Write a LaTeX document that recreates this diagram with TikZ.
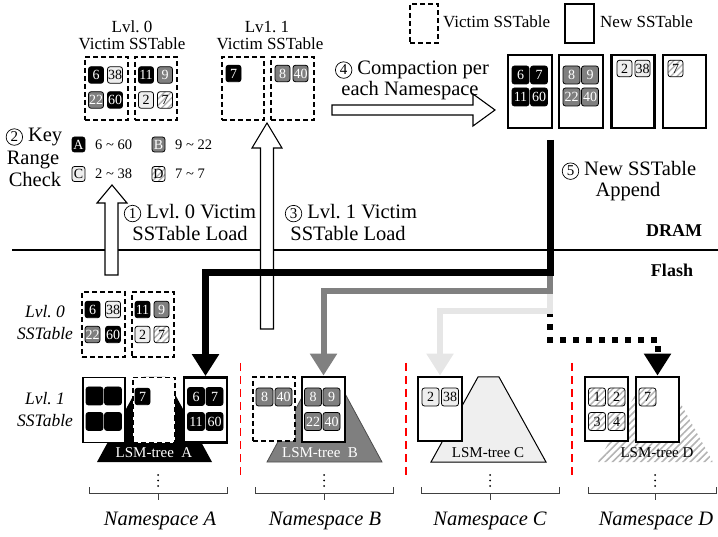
\documentclass[tikz,border=0pt]{standalone}
\usepackage{fontspec}
\setmainfont{Liberation Serif}
\usetikzlibrary{arrows.meta,patterns.meta}

\definecolor{cellgray}{HTML}{7F7F7F}
\definecolor{celllight}{HTML}{EEEEEE}
\definecolor{flowgray}{HTML}{808080}
\definecolor{flowlight}{HTML}{E6E6E6}
\definecolor{hatchgray}{HTML}{B4B4B4}
\definecolor{treelight}{HTML}{EFEFEF}

\newcommand{\fsz}[1]{\fontsize{#1}{#1}\selectfont}
% circled step number
\newcommand{\cnum}[1]{\tikz[baseline=(cnumnode.base)]\node[draw,circle,line width=0.7pt,inner sep=0pt,minimum size=16.5pt,font=\fsz{15}](cnumnode){#1};}

\begin{document}
\begin{tikzpicture}[x=1pt,y=-1pt,
  cell/.style={rounded corners=2.5pt, draw=black, line width=0.8pt, minimum width=15pt, minimum height=16.5pt, inner sep=0pt, font=\fsz{14}},
  cA/.style={cell, fill=black, text=white},
  cB/.style={cell, fill=cellgray, text=white},
  cC/.style={cell, fill=celllight},
  cD/.style={cell, preaction={fill=white}, pattern={Lines[angle=45,distance=4.5pt,line width=1.4pt]}, pattern color=hatchgray},
  big/.style={minimum width=17pt, minimum height=18pt},
  vbox/.style={draw, dash pattern=on 5pt off 3pt, line width=1.5pt, fill=white, inner sep=0pt},
  nbox/.style={draw, line width=2.8pt, fill=white, inner sep=0pt},
  obox/.style={draw, line width=1.2pt, fill=white, inner sep=0pt},
  hollow/.style={draw, line width=1.1pt, fill=white, line join=miter},
  lbl/.style={inner sep=0pt, anchor=base, font=\fsz{17}},
  steplbl/.style={inner sep=0pt, anchor=base, font=\fsz{20.5}},
  rowlbl/.style={inner sep=0pt, anchor=base, font=\fsz{17.5}\itshape},
  nslbl/.style={inner sep=0pt, anchor=base, font=\fsz{20.5}\itshape},
  treelbl/.style={inner sep=0pt, anchor=base, font=\fsz{15}},
  keytxt/.style={inner sep=0pt, anchor=west, font=\fsz{14.5}},
  flowtip/.style={-{Triangle[width=26pt,length=22pt]}},
  sep/.style={red, line width=1.6pt, dash pattern=on 8pt off 5pt},
  brace/.style={line width=0.9pt, black!75},
]
\useasboundingbox (0,0) rectangle (718,537);

% ---------- LSM-tree trapezoids (Flash) ----------
\fill[black] (97,462) -- (143.5,377) -- (165.5,377) -- (212,462) -- cycle;
\filldraw[fill=cellgray, draw=black!70, line width=0.8pt] (267,462) -- (313,377) -- (336,377) -- (382,462) -- cycle;
\filldraw[fill=treelight, draw=black, line width=1pt] (431,462) -- (478,377) -- (499,377) -- (546,462) -- cycle;
\path[pattern={Lines[angle=45,distance=5pt,line width=1.6pt]}, pattern color=hatchgray] (598,462) -- (645,377) -- (666,377) -- (713,462) -- cycle;

% ---------- SSTable boxes ----------
% DRAM: level-0 victims
\node[vbox, minimum width=43pt, minimum height=63pt] (dv0a) at (106.5,88.5) {};
\node[vbox, minimum width=42pt, minimum height=63pt] (dv0b) at (156,88.5) {};
% DRAM: level-1 victims
\node[vbox, minimum width=42pt, minimum height=63pt] (dv1a) at (243,88.5) {};
\node[vbox, minimum width=43pt, minimum height=63pt] (dv1b) at (292.5,88.5) {};
% DRAM: compaction results
\node[nbox, minimum width=44pt, minimum height=73pt] (cn1) at (530,91.5) {};
\node[nbox, minimum width=44pt, minimum height=73pt] (cn2) at (581,91.5) {};
\node[nbox, minimum width=43pt, minimum height=73pt] (cn3) at (633,91.5) {};
\node[nbox, minimum width=43pt, minimum height=73pt] (cn4) at (684.5,91.5) {};
% legend
\node[vbox, minimum width=28pt, minimum height=39pt] (legvb) at (424,23.5) {};
\node[nbox, minimum width=29pt, minimum height=39pt] (legnb) at (579.5,23.5) {};
% Flash: level-0
\node[vbox, minimum width=43pt, minimum height=65pt] (f0a) at (103.5,324.5) {};
\node[vbox, minimum width=42pt, minimum height=65pt] (f0b) at (153,324.5) {};
% Flash: level-1 per namespace
\node[obox, minimum width=42pt, minimum height=65pt] (aold) at (104,410) {};
\node[vbox, minimum width=42pt, minimum height=65pt] (avic) at (154,410) {};
\node[nbox, minimum width=43pt, minimum height=65pt] (anew) at (205.5,410) {};
\node[vbox, minimum width=42pt, minimum height=64pt] (bvic) at (274,409) {};
\node[nbox, minimum width=43pt, minimum height=65pt] (bnew) at (323.5,409.5) {};
\node[nbox, minimum width=44pt, minimum height=64pt] (cnew) at (440,409) {};
\node[obox, minimum width=43pt, minimum height=64pt] (dold) at (606.5,409) {};
\node[nbox, minimum width=43pt, minimum height=65pt] (dnew) at (657.5,409.5) {};

% ---------- key cells ----------
% DRAM level-0 victims
\node[cA] (k01) at (96,75) {6};
\node[cC] (k02) at (115,75) {38};
\node[cB] (k03) at (96,100) {22};
\node[cA] (k04) at (115,100) {60};
\node[cA] (k05) at (146,75) {11};
\node[cB] (k06) at (165,75) {9};
\node[cC] (k07) at (146,100) {2};
\node[cD] (k08) at (165,100) {7};
% DRAM level-1 victims
\node[cA] (k11) at (233.5,73.5) {7};
\node[cB] (k12) at (282.5,73.5) {8};
\node[cB] (k13) at (300.5,73.5) {40};
% compaction results
\node[cA, big] (r1) at (520.5,75) {6};
\node[cA, big] (r2) at (539,75) {7};
\node[cA, big] (r3) at (520.5,97) {11};
\node[cA, big] (r4) at (539,97) {60};
\node[cB, big] (r5) at (571.5,75) {8};
\node[cB, big] (r6) at (590,75) {9};
\node[cB, big] (r7) at (571.5,97) {22};
\node[cB, big] (r8) at (590,97) {40};
\node[cC] (r9) at (624.5,68.5) {2};
\node[cC] (r10) at (642.5,68.5) {38};
\node[cD] (r11) at (675.5,68.5) {7};
% key range legend
\node[cA, minimum width=13pt, minimum height=15pt] (kA) at (78.5,144.5) {A};
\node[cB, minimum width=13pt, minimum height=15pt] (kB) at (158.5,144.5) {B};
\node[cC, minimum width=13pt, minimum height=15pt] (kC) at (78.5,174) {C};
\node[cD, minimum width=13pt, minimum height=15pt] (kD) at (158.5,174) {D};
\node[keytxt] (kAt) at (95,144.5) {6 \textasciitilde{} 60};
\node[keytxt] (kBt) at (175,144.5) {9 \textasciitilde{} 22};
\node[keytxt] (kCt) at (95,174) {2 \textasciitilde{} 38};
\node[keytxt] (kDt) at (175,174) {7 \textasciitilde{} 7};
% Flash level-0
\node[cA] (f01) at (92.5,309.5) {6};
\node[cC] (f02) at (113,309.5) {38};
\node[cB] (f03) at (92.5,334.5) {22};
\node[cA] (f04) at (113,334.5) {60};
\node[cA] (f05) at (142.5,309.5) {11};
\node[cB] (f06) at (161.5,309.5) {9};
\node[cC] (f07) at (142.5,334.5) {2};
\node[cD] (f08) at (161.5,334.5) {7};
% namespace A
\node[cA, big] (a1) at (94.5,396) {};
\node[cA, big] (a2) at (113,396) {};
\node[cA, big] (a3) at (94.5,421.5) {};
\node[cA, big] (a4) at (113,421.5) {};
\node[cA] (a5) at (142.5,396.5) {7};
\node[cA, big] (a6) at (196,396.5) {6};
\node[cA, big] (a7) at (214.5,396.5) {7};
\node[cA, big] (a8) at (196,421.5) {11};
\node[cA, big] (a9) at (214.5,421.5) {60};
% namespace B
\node[cB, big] (b1) at (264.5,397) {8};
\node[cB, big] (b2) at (283.5,397) {40};
\node[cB, big] (b3) at (313,397) {8};
\node[cB, big] (b4) at (331.5,397) {9};
\node[cB, big] (b5) at (313,421.5) {22};
\node[cB, big] (b6) at (331.5,421.5) {40};
% namespace C
\node[cC, big] (c1) at (430.5,397) {2};
\node[cC, big] (c2) at (450,397) {38};
% namespace D
\node[cD, big] (d1) at (597,397) {1};
\node[cD, big] (d2) at (616.5,397) {2};
\node[cD, big] (d3) at (597,421.5) {3};
\node[cD, big] (d4) at (616.5,421.5) {4};
\node[cD, big] (d5) at (647.5,397) {7};

% tree labels
\node[treelbl, text=white] (ta) at (154,457) {LSM-tree\ \ A};
\node[treelbl, text=white] (tb) at (320,457) {LSM-tree\ \ B};
\node[treelbl] (tc) at (488,457) {LSM-tree C};
\node[treelbl] (td) at (657,457) {LSM-tree D};

% namespace separators
\draw[sep] (240.5,363) -- (240.5,476);
\draw[sep] (406,363) -- (406,476);
\draw[sep] (572,363) -- (572,476);

% vertical ellipses and brackets under each namespace
\foreach \cx/\xa/\xb in {158/89/227, 324/255/393, 490/421/559, 655/588/716} {
  \fill (\cx,475) circle (1pt) (\cx,480.5) circle (1pt) (\cx,486) circle (1pt);
  \draw[brace] (\xa,487) -- (\xa,493) -- (\xb,493) -- (\xb,487);
  \draw[brace] (\cx,493) -- (\cx,500);
}

% DRAM / Flash boundary
\draw[line width=2.5pt] (12,250) -- (718,250);

% ---------- hollow load / compaction arrows ----------
\draw[hollow] (105,275) -- (105,203) -- (97,203) -- (112,185) -- (127,203) -- (118,203) -- (118,275) -- cycle;
\draw[hollow] (260.5,329) -- (260.5,148) -- (252,148) -- (267,123) -- (282,148) -- (273.5,148) -- (273.5,329) -- cycle;
\draw[hollow] (332,105) -- (473,105) -- (473,94) -- (495,110) -- (473,126) -- (473,115) -- (332,115) -- cycle;

% ---------- new SSTable append paths ----------
\coordinate (src) at (550,140);
\coordinate (jA) at (550,273);
\coordinate (jB) at (550,291);
\coordinate (jC) at (550,311);
\coordinate (jD) at (550,340);
\draw[flowtip, line width=6pt, dash pattern=on 6pt off 7pt] (jC) -- (jD) -| (dnew.north);
\draw[flowtip, line width=6pt, flowlight] (jB) -- (jC) -| (cnew.north);
\draw[flowtip, line width=6pt, flowgray] (jA) -- (jB) -| (bnew.north);
\draw[flowtip, line width=7pt] (src) -- (jA) -| (anew.north);

% ---------- labels ----------
\node[lbl] (t0a) at (132,33) {Lvl.\ 0};
\node[lbl] (t0b) at (132,50) {Victim SSTable};
\node[lbl] (t1a) at (267,33) {Lv1.\ 1};
\node[lbl] (t1b) at (270,50) {Victim SSTable};
\node[lbl, anchor=base west] (legv) at (443,28) {Victim SSTable};
\node[lbl, anchor=base west] (legn) at (600,28) {New SSTable};

\node[steplbl] (k1) at (34,142) {\cnum{2} Key};
\node[steplbl] (k2) at (33,164.5) {Range};
\node[steplbl] (k3) at (35,187) {Check};

\node[steplbl] (s1a) at (190,218.5) {\cnum{1} Lvl.\ 0 Victim};
\node[steplbl] (s1b) at (190,241) {SSTable Load};
\node[steplbl] (s3a) at (351,218.5) {\cnum{3} Lvl.\ 1 Victim};
\node[steplbl] (s3b) at (348,241) {SSTable Load};
\node[steplbl] (s4a) at (412,75) {\cnum{4} Compaction per};
\node[steplbl] (s4b) at (410,96) {each Namespace};
\node[steplbl] (s5a) at (629,176) {\cnum{5} New SSTable};
\node[steplbl] (s5b) at (628,197) {Append};

\node[inner sep=0pt, anchor=base, font=\fsz{18}\bfseries] (dram) at (674,237) {DRAM};
\node[inner sep=0pt, anchor=base, font=\fsz{18}\bfseries] (flash) at (672,277) {Flash};

\node[rowlbl] (l0a) at (45,318) {Lvl.\ 0};
\node[rowlbl] (l0b) at (45,340) {SSTable};
\node[rowlbl] (l1a) at (45,405) {Lvl.\ 1};
\node[rowlbl] (l1b) at (45,427) {SSTable};

\node[nslbl] (nsa) at (160,525) {Namespace A};
\node[nslbl] (nsb) at (325,525) {Namespace B};
\node[nslbl] (nsc) at (490,525) {Namespace C};
\node[nslbl] (nsd) at (656,525) {Namespace D};
\end{tikzpicture}
\end{document}
